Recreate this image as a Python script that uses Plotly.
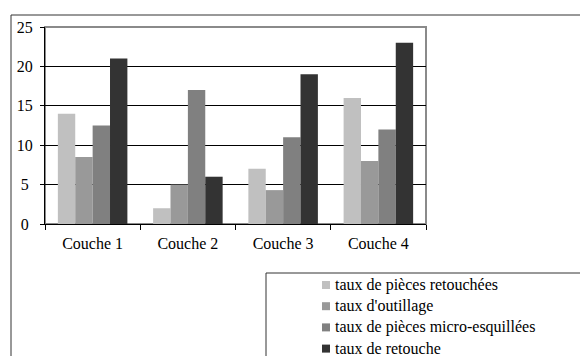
import plotly.graph_objects as go

# Categories and series values
couches = ["Couche 1", "Couche 2", "Couche 3", "Couche 4"]
series_names = [
    "taux de pièces retouchées",
    "taux d'outillage",
    "taux de pièces micro-esquillées",
    "taux de retouche",
]
retouchees = [14, 2, 7, 16]
outillage = [8.5, 5, 4.3, 8]
micro_esquillees = [12.5, 17, 11, 12]
retouche = [21, 6, 19, 23]
y_ticks = [0, 5, 10, 15, 20, 25]

series_values = [retouchees, outillage, micro_esquillees, retouche]
colors = ["#c0c0c0", "#999999", "#808080", "#333333"]

W, H = 580, 356
L, R, T, B = 45, 426, 27, 224  # plot area in pixels

FONT = "Liberation Serif"
FS = 16

fig = go.Figure()
for name, vals, col in zip(series_names, series_values, colors):
    fig.add_trace(go.Bar(name=name, x=couches, y=vals, marker_color=col,
                         marker_line_width=0, showlegend=False))


def px_x(p):
    return (p - L) / (R - L)


def px_y(p):
    return (B - p) / (B - T)


# outer chart frame (top and left edges visible)
fig.add_shape(type="rect", xref="paper", yref="paper",
              x0=px_x(11), x1=px_x(590), y0=px_y(15), y1=px_y(370),
              line=dict(color="#333333", width=1), layer="below")
# legend frame
fig.add_shape(type="rect", xref="paper", yref="paper",
              x0=px_x(266), x1=px_x(590), y0=px_y(273), y1=px_y(370),
              line=dict(color="#333333", width=1), layer="below")
# plot area border
fig.add_shape(type="rect", xref="paper", yref="paper",
              x0=0, x1=1, y0=0, y1=1,
              line=dict(color="#8a8a8a", width=2), layer="below")

# legend: colour key + series name, one row per series
row0, row_step = 285, 21.2
key_x, key_size, text_x = 322, 8, 334
for i, (name, col) in enumerate(zip(series_names, colors)):
    yc = row0 + i * row_step
    fig.add_shape(type="rect", xref="paper", yref="paper",
                  x0=px_x(key_x), x1=px_x(key_x + key_size),
                  y0=px_y(yc - key_size / 2), y1=px_y(yc + key_size / 2),
                  fillcolor=col, line_width=0)
    fig.add_annotation(x=px_x(text_x), y=px_y(yc), xref="paper", yref="paper",
                       xanchor="left", yanchor="middle", text=name,
                       showarrow=False, borderpad=0,
                       font=dict(family=FONT, size=FS, color="black"))

# single-digit labels get a little trailing space so they sit centred
tick_text = [str(v) + ("\u2008" if v < 10 else "") for v in y_ticks]

fig.update_layout(
    width=W, height=H,
    margin=dict(l=L, r=W - R, t=T, b=H - B, autoexpand=False),
    paper_bgcolor="white", plot_bgcolor="white",
    barmode="group", bargap=0.27, bargroupgap=0,
    font=dict(family=FONT, size=FS, color="black"),
    showlegend=False,
)
fig.update_xaxes(showline=True, linecolor="black", linewidth=1,
                 ticks="outside", tickson="boundaries", ticklen=5,
                 tickcolor="black", showgrid=False, ticklabelstandoff=5,
                 tickfont=dict(family=FONT, size=FS))
fig.update_yaxes(range=[0, 25], tickvals=y_ticks, ticktext=tick_text,
                 showline=True, linecolor="black", linewidth=1,
                 ticks="outside", ticklen=4, tickcolor="black",
                 showgrid=True, gridcolor="black", gridwidth=1,
                 zeroline=False, ticklabelstandoff=4,
                 tickfont=dict(family=FONT, size=FS))

fig.write_html("out.html")
